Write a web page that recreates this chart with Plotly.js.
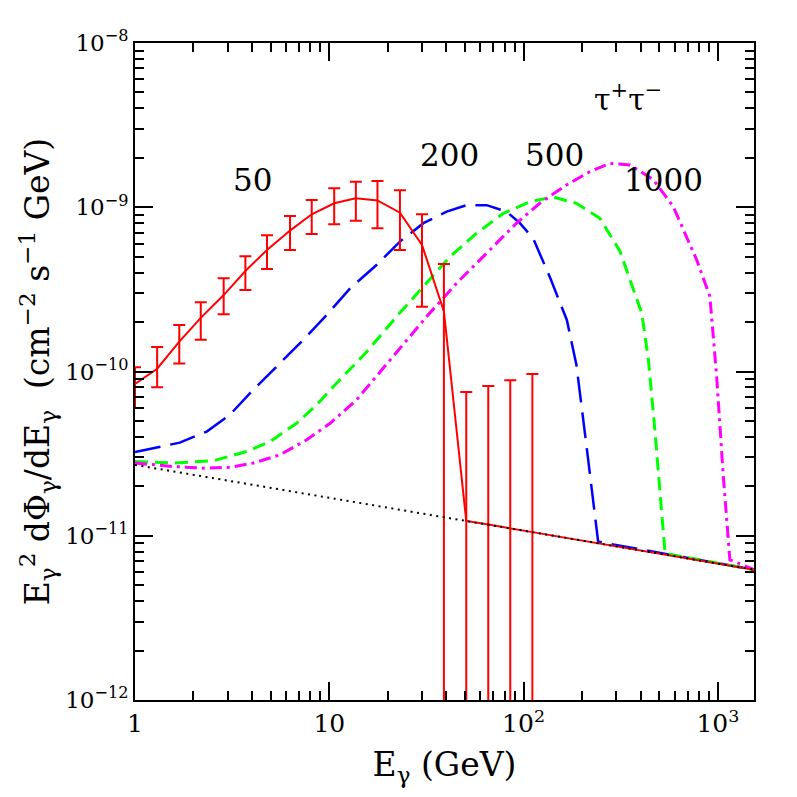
<!DOCTYPE html>
<html>
<head>
<meta charset="utf-8">
<script src="https://cdn.plot.ly/plotly-3.0.1.min.js"></script>
<style>html,body{margin:0;padding:0;background:#fff;}</style>
</head>
<body>
<div id="chart" style="width:797px;height:797px;"></div>
<script>
// Background (astrophysical) spectrum, black dotted
const bgE = [1, 10, 100, 1000, 1550];
const bgFlux = [2.70e-11, 1.70e-11, 1.075e-11, 6.8e-12, 6.2e-12];

// m = 50 GeV : binned spectrum with error bars (red)
const e50 = [1.0, 1.30, 1.69, 2.18, 2.86, 3.70, 4.78, 6.28, 8.12, 10.6, 13.7, 17.7, 23.1, 30.0, 38.9, 50.7, 65.8, 85.4, 111];
const flux50 = [8.4e-11, 1.04e-10, 1.52e-10, 2.12e-10, 2.92e-10, 4.09e-10, 5.5e-10, 7.21e-10, 9.06e-10, 1.057e-9, 1.135e-9, 1.10e-9, 9.27e-10, 5.9e-10, 2.32e-10, 1.23e-11, 1.169e-11, 1.109e-11, 1.052e-11];
const upper50 = [1.06e-10, 1.41e-10, 1.92e-10, 2.64e-10, 3.70e-10, 5.03e-10, 6.76e-10, 8.85e-10, 1.107e-9, 1.305e-9, 1.432e-9, 1.445e-9, 1.27e-9, 9.06e-10, 4.52e-10, 7.51e-11, 8.17e-11, 8.85e-11, 9.67e-11];
const lower50 = [6.0e-11, 8.02e-11, 1.12e-10, 1.56e-10, 2.23e-10, 3.14e-10, 4.21e-10, 5.5e-10, 6.88e-10, 7.88e-10, 8.29e-10, 7.45e-10, 5.5e-10, 2.48e-10, 0, 0, 0, 0, 0];
const tail50E = [111, 1000, 1550];
const tail50Flux = [1.052e-11, 6.8e-12, 6.2e-12];

// m = 200 GeV (blue long dash)
const e200 = [1.0, 1.70, 2.34, 3.08, 3.91, 5.36, 7.35, 9.70, 12.8, 17.5, 23.1, 30.5, 40.2, 50.9, 64.6, 81.8, 95.7, 112, 137, 167, 187, 211, 242, 1000, 1550];
const flux200 = [3.23e-11, 3.69e-11, 4.31e-11, 5.45e-11, 7.38e-11, 1.07e-10, 1.56e-10, 2.21e-10, 3.21e-10, 4.45e-10, 6.18e-10, 8.0e-10, 9.4e-10, 1.03e-9, 1.03e-9, 9.4e-10, 8.0e-10, 6.47e-10, 3.72e-10, 2.06e-10, 1.10e-10, 3.49e-11, 9.2e-12, 6.8e-12, 6.2e-12];

// m = 500 GeV (green dash)
const e500 = [1.0, 1.57, 2.53, 3.76, 4.95, 6.79, 8.61, 10.9, 15.6, 22.2, 30.5, 41.8, 57.4, 78.7, 108, 142, 187, 247, 313, 406, 439, 474, 535, 1000, 1550];
const flux500 = [2.83e-11, 2.77e-11, 2.86e-11, 3.26e-11, 3.74e-11, 4.84e-11, 6.26e-11, 8.49e-11, 1.32e-10, 2.16e-10, 3.29e-10, 5.0e-10, 6.95e-10, 9.19e-10, 1.08e-9, 1.155e-9, 1.057e-9, 8.57e-10, 5.42e-10, 2.26e-10, 1.18e-10, 4.4e-11, 7.8e-12, 6.8e-12, 6.2e-12];

// m = 1000 GeV (magenta dash-dot)
const e1000 = [1.0, 1.57, 2.25, 3.08, 4.06, 5.57, 7.66, 10.1, 13.8, 22.2, 31.7, 45.3, 64.6, 92.0, 121, 167, 220, 279, 353, 466, 589, 778, 910, 986, 1067, 1153, 1550];
const flux1000 = [2.77e-11, 2.64e-11, 2.58e-11, 2.61e-11, 2.77e-11, 3.11e-11, 3.84e-11, 4.84e-11, 6.71e-11, 1.32e-10, 2.16e-10, 3.45e-10, 5.25e-10, 8.0e-10, 1.057e-9, 1.37e-9, 1.65e-9, 1.85e-9, 1.81e-9, 1.47e-9, 1.01e-9, 4.78e-10, 2.86e-10, 9.3e-11, 2.29e-11, 7.13e-12, 6.2e-12];

const massLabels = ['50', '200', '500', '1000'];
const channelLabel = 'τ<sup>+</sup>τ<sup>−</sup>';

// tick values and labels
const xTickVals = [1, 10, 100, 1000];
const xTickText = ['1', '10', '10<sup>2</sup>', '10<sup>3</sup>'];
const xMinorVals = [2,3,4,5,6,7,8,9,20,30,40,50,60,70,80,90,200,300,400,500,600,700,800,900];
const yTickVals = [1e-12, 1e-11, 1e-10, 1e-9, 1e-8];
const yTickText = ['10<sup>−12</sup>', '10<sup>−11</sup>', '10<sup>−10</sup>', '10<sup>−9</sup>', '10<sup>−8</sup>'];
const yMinorVals = [2e-12,3e-12,4e-12,5e-12,6e-12,7e-12,8e-12,9e-12,2e-11,3e-11,4e-11,5e-11,6e-11,7e-11,8e-11,9e-11,2e-10,3e-10,4e-10,5e-10,6e-10,7e-10,8e-10,9e-10,2e-9,3e-9,4e-9,5e-9,6e-9,7e-9,8e-9,9e-9];

const FONT = 'DejaVu Serif, Liberation Serif, serif';

const errPlus = upper50.map((u, i) => u - flux50[i]);
const errMinus = lower50.map((l, i) => flux50[i] - l);

const traces = [
  {x: e200, y: flux200, mode: 'lines', line: {color: '#0000ff', width: 2.5, dash: '26px,10px'}, hoverinfo: 'skip'},
  {x: e500, y: flux500, mode: 'lines', line: {color: '#00ff00', width: 3, dash: '13px,7px'}, hoverinfo: 'skip'},
  {x: e1000, y: flux1000, mode: 'lines', line: {color: '#ff00ff', width: 3, dash: '12px,5px,3px,5px'}, hoverinfo: 'skip'},
  {x: tail50E, y: tail50Flux, mode: 'lines', line: {color: '#ff0000', width: 2}, hoverinfo: 'skip'},
  {x: e50, y: flux50, mode: 'lines', line: {color: '#ff0000', width: 2},
   error_y: {type: 'data', symmetric: false, array: errPlus, arrayminus: errMinus, color: '#ff0000', thickness: 2, width: 6},
   hoverinfo: 'skip'},
  {x: bgE, y: bgFlux, mode: 'lines', line: {color: '#000000', width: 2, dash: '2px,4.5px'}, hoverinfo: 'skip'}
];

const axisCommon = {
  type: 'log',
  tickmode: 'array',
  ticks: 'inside', ticklen: 18, tickwidth: 1.5, tickcolor: '#000',
  mirror: 'allticks', showline: true, linewidth: 2, linecolor: '#000',
  showgrid: false, zeroline: false,
  tickfont: {family: FONT, size: 23, color: '#000'}
};

const annFont = {family: FONT, size: 31, color: '#000'};
const layout = {
  width: 797, height: 797,
  margin: {l: 135, r: 43, t: 43, b: 97},
  paper_bgcolor: '#fff', plot_bgcolor: '#fff',
  showlegend: false,
  xaxis: Object.assign({}, axisCommon, {
    range: [0, 3.186],
    tickvals: xTickVals, ticktext: xTickText,
    minor: {tickmode: 'array', tickvals: xMinorVals, ticks: 'inside', ticklen: 9, tickwidth: 1.5, tickcolor: '#000', showgrid: false},
    tickfont: {family: FONT, size: 25, color: '#000'},
    title: {text: 'E<sub>γ</sub> (GeV)', font: {family: FONT, size: 33, color: '#000'}, standoff: 16}
  }),
  yaxis: Object.assign({}, axisCommon, {
    range: [-12, -8],
    tickvals: yTickVals, ticktext: yTickText,
    minor: {tickmode: 'array', tickvals: yMinorVals, ticks: 'inside', ticklen: 9, tickwidth: 1.5, tickcolor: '#000', showgrid: false},
    title: {text: 'E<sub>γ</sub><sup>2</sup> dΦ<sub>γ</sub>/dE<sub>γ</sub>  (cm<sup>−2</sup> s<sup>−1</sup> GeV)', font: {family: FONT, size: 33, color: '#000'}, standoff: 6}
  }),
  annotations: [
    {text: massLabels[0], x: 0.605, y: -8.834, xref: 'x', yref: 'y', showarrow: false, font: annFont},
    {text: massLabels[1], x: 1.6195, y: -8.682, xref: 'x', yref: 'y', showarrow: false, font: annFont},
    {text: massLabels[2], x: 2.1616, y: -8.682, xref: 'x', yref: 'y', showarrow: false, font: annFont},
    {text: massLabels[3], x: 2.720, y: -8.834, xref: 'x', yref: 'y', showarrow: false, font: annFont},
    {text: channelLabel, x: 2.537, y: -8.33, xref: 'x', yref: 'y', showarrow: false, font: {family: FONT, size: 30, color: '#000'}}
  ]
};

Plotly.newPlot('chart', traces, layout, {displayModeBar: false});
</script>
</body>
</html>
